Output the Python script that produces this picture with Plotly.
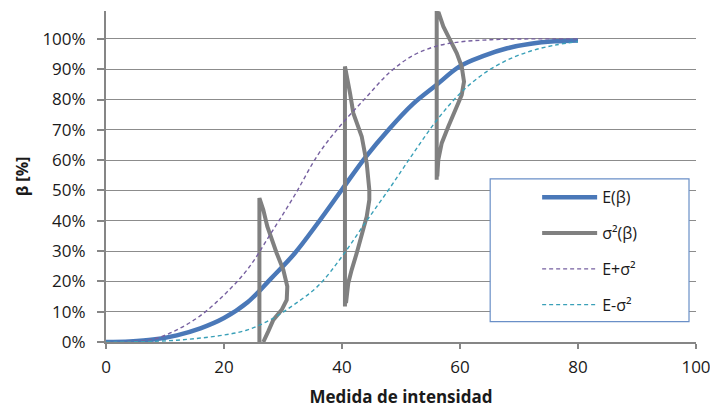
import plotly.graph_objects as go

# ---- data ----
x_int = [0, 4, 8, 12, 16, 20, 24, 28, 32, 36, 40, 44, 48, 52, 56, 60, 64, 68, 72, 76, 80]
e_beta = [0.0, 0.2, 0.8, 2.2, 4.5, 7.9, 13.1, 21.0, 29.3, 39.5, 50.3, 61.0, 70.3, 78.5, 84.8, 91.0, 94.4, 96.9, 98.4, 99.2, 99.5]
e_plus = [0.0, 0.2, 0.9, 4.0, 8.7, 15.5, 24.0, 36.0, 48.5, 62.0, 72.0, 80.5, 88.8, 94.5, 97.6, 99.0, 99.6, 99.9, 100.0, 100.0, 100.0]
e_minus = [0.0, 0.05, 0.2, 0.6, 1.3, 2.3, 4.0, 7.5, 12.5, 18.6, 28.2, 39.5, 50.5, 62.0, 73.0, 82.0, 88.5, 93.0, 96.0, 97.9, 99.1]

sig1_x = [26.0, 26.0, 26.66, 27.34, 28.93, 30.05, 30.73, 30.63, 29.78, 28.36, 27.5, 26.66]
sig1_y = [0.0, 47.5, 43.6, 38.1, 29.3, 23.8, 18.3, 13.9, 10.6, 7.3, 3.5, 0.0]
sig2_x = [40.5, 40.5, 41.36, 41.92, 43.34, 44.19, 44.63, 44.63, 44.19, 43.34, 42.49, 41.64, 41.07, 40.68]
sig2_y = [11.7, 90.9, 82.1, 75.5, 67.8, 59.0, 50.2, 46.9, 41.4, 34.8, 29.3, 23.8, 19.5, 12.9]
sig3_x = [56.05, 56.05, 56.32, 57.17, 58.31, 59.44, 60.29, 60.68, 60.29, 59.15, 58.02, 56.9, 56.32, 56.15]
sig3_y = [53.5, 111.0, 109.0, 104.1, 99.7, 95.3, 90.9, 85.9, 81.5, 76.6, 71.1, 65.6, 60.1, 54.6]

x_ticks = [0, 20, 40, 60, 80, 100]
y_ticks = [0, 10, 20, 30, 40, 50, 60, 70, 80, 90, 100]
y_tick_text = ["0%", "10%", "20%", "30%", "40%", "50%", "60%", "70%", "80%", "90%", "100%"]

names = ["E(β)", "σ²(β)", "E+σ²", "E-σ²"]

sig_x = sig1_x + [None] + sig2_x + [None] + sig3_x
sig_y = sig1_y + [None] + sig2_y + [None] + sig3_y

fig = go.Figure()
fig.add_trace(go.Scatter(x=x_int, y=e_beta, mode="lines", name=names[0], legendgroup="a",
                         line=dict(color="#4A78B8", width=4.5, shape="spline")))
fig.add_trace(go.Scatter(x=sig_x, y=sig_y, mode="lines", name=names[1], legendgroup="b",
                         line=dict(color="#808080", width=4)))
fig.add_trace(go.Scatter(x=x_int, y=e_plus, mode="lines", name=names[2], legendgroup="c",
                         line=dict(color="#7660A0", width=1.4, dash="4px,3px", shape="spline")))
fig.add_trace(go.Scatter(x=x_int, y=e_minus, mode="lines", name=names[3], legendgroup="d",
                         line=dict(color="#3AA0B8", width=1.4, dash="4px,3px", shape="spline")))

L, R, T, B = 105.5, 696.0, 11.0, 342.3
pw, ph = R - L, B - T

def px(xp):
    return (xp - L) / pw

def py(yp):
    return (B - yp) / ph

fig.add_shape(type="rect", xref="paper", yref="paper",
              x0=px(490), x1=px(689), y0=py(322), y1=py(179),
              line=dict(color="#6A8FC7", width=1.2), fillcolor="white", layer="above")

fig.update_layout(
    width=710, height=409,
    margin=dict(l=L, r=710 - R, t=T, b=409 - B, pad=0, autoexpand=False),
    plot_bgcolor="white", paper_bgcolor="white",
    font=dict(family="Open Sans", size=16, color="#1a1a1a"),
    showlegend=True,
    legend=dict(x=px(537), y=py(180.5), xanchor="left", yanchor="top",
                bgcolor="rgba(0,0,0,0)", borderwidth=0, tracegroupgap=12,
                itemwidth=55, font=dict(family="Open Sans", size=16, color="#1a1a1a")),
    xaxis=dict(range=[0, 100], tickmode="array", tickvals=x_ticks, ticks="outside", ticklen=5,
               tickcolor="#868686", tickwidth=1.5, showline=True, linecolor="#868686",
               linewidth=2, showgrid=False, zeroline=False, ticklabeloverflow="allow",
               automargin=False, ticklabelstandoff=4, tickfont=dict(size=17),
               title=dict(text="<b>Medida de intensidad</b>", standoff=14,
                          font=dict(size=17))),
    yaxis=dict(range=[0, 109.2], tickmode="array", tickvals=y_ticks, ticktext=y_tick_text,
               ticks="outside", ticklen=7, tickcolor="#868686", tickwidth=1.5, showline=True,
               linecolor="#868686", linewidth=2, showgrid=True, gridcolor="#8C8C8C",
               gridwidth=1, zeroline=False, tickfont=dict(size=17), ticklabelstandoff=8,
               automargin=False,
               title=dict(text="<b>β [%]</b>", standoff=10, font=dict(size=16))),
)

fig.write_html("out.html")
